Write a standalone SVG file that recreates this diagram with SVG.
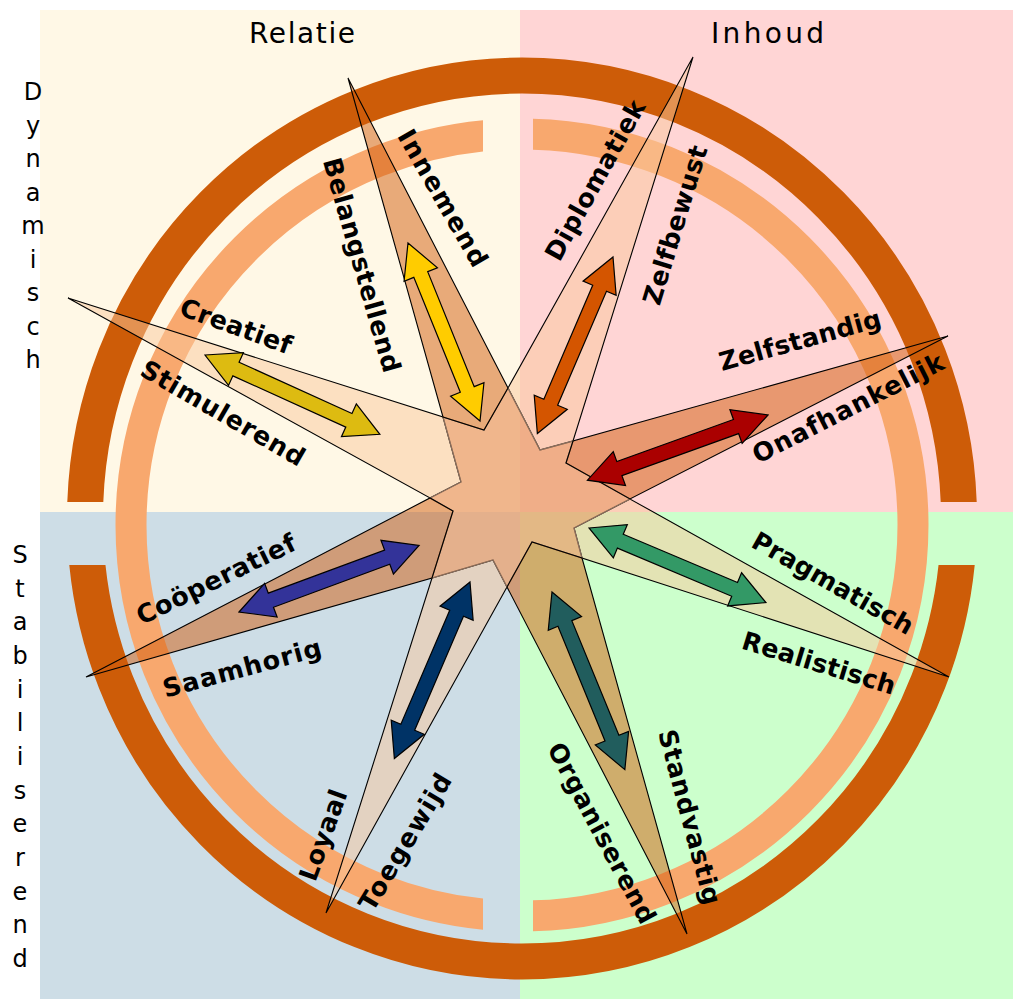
<svg xmlns="http://www.w3.org/2000/svg" xmlns:xlink="http://www.w3.org/1999/xlink" width="1019" height="999" viewBox="0 0 1019 999">
<style>
.dark{fill:rgb(209,92,11);fill-opacity:0.5;stroke:#000;stroke-width:1.1;stroke-linejoin:miter}
.light{fill:rgb(249,200,155);fill-opacity:0.5;stroke:#000;stroke-width:1.1}
.star{fill:rgb(235,160,110);fill-opacity:0.75;stroke:#8a6e5c;stroke-width:1.3}
.arr{stroke:#000;stroke-width:1.2;stroke-linejoin:miter}
.lbl{font-family:"DejaVu Sans",Verdana,sans-serif;font-weight:bold;font-size:25.5px;fill:#000}
.ttl{font-family:"DejaVu Sans",Verdana,sans-serif;font-size:28px;fill:#000}
.side{font-family:"DejaVu Sans",Verdana,sans-serif;font-size:24px;fill:#000;text-anchor:middle}
</style>
<defs>
<polygon id="arrow" points="0,0 34,-18 34,-7.5 158,-7.5 158,-18 192,0 158,18 158,7.5 34,7.5 34,18"/>
<clipPath id="outerClip"><rect x="0" y="0" width="1019" height="502"/><rect x="0" y="565" width="1019" height="434"/></clipPath>
<clipPath id="innerClip"><rect x="0" y="0" width="483" height="999"/><rect x="533" y="0" width="486" height="999"/></clipPath>
</defs>
<rect width="1019" height="999" fill="#fff"/>
<g id="quadrants">
<rect x="40" y="10" width="480" height="502" fill="#FFF8E6"/>
<rect x="520" y="10" width="493" height="502" fill="#FFD5D5"/>
<rect x="40" y="512" width="480" height="487" fill="#CDDDE6"/>
<rect x="520" y="512" width="493" height="487" fill="#CCFFCC"/>
</g>
<g id="rings">
<ellipse cx="522" cy="518.5" rx="437" ry="443" fill="none" stroke="#CD5C08" stroke-width="36" clip-path="url(#outerClip)"/>
<circle cx="522" cy="525" r="391" fill="none" stroke="#F8A86E" stroke-width="31" clip-path="url(#innerClip)"/>
</g>
<g id="connectors">
<g id="petal-diplomatiek"><polygon class="light" points="693,57 508,388 540,450 573,441"/></g>
<g id="petal-pragmatisch"><polygon class="light" points="949,677 630,499 574,528 582,558"/></g>
<g id="petal-loyaal"><polygon class="light" points="326,913 507,587 493,560 432,578"/></g>
<g id="petal-creatief"><polygon class="light" points="68,298 430,498 461,482 443,417"/></g>
<g id="star"><polygon class="star" points="443,417 484,430 508,388 540,450 573,441 566,463 630,499 574,528 582,558 532,542 507,587 493,560 432,578 453,511 430,498 461,482"/></g>
<g id="petal-innemend"><polygon class="dark" points="348,78 443,417 484,430 508,388"/></g>
<g id="petal-zelfstandig"><polygon class="dark" points="948,336 573,441 566,463 630,499"/></g>
<g id="petal-standvastig"><polygon class="dark" points="687,934 582,558 532,542 507,587"/></g>
<g id="petal-cooperatief"><polygon class="dark" points="86,677 432,578 453,511 430,498"/></g>
</g>
<g id="arrows">
<use xlink:href="#arrow" class="arr" fill="#FFCC00" transform="translate(408,243) rotate(67.97)"/>
<use xlink:href="#arrow" class="arr" fill="#D45500" transform="translate(613,257) rotate(113.2)"/>
<use xlink:href="#arrow" class="arr" fill="#AA0000" transform="translate(768,415) rotate(160.15)"/>
<use xlink:href="#arrow" class="arr" fill="#339966" transform="translate(589,528) rotate(22.85)"/>
<use xlink:href="#arrow" class="arr" fill="#215D5D" transform="translate(552,592) rotate(67.7)"/>
<use xlink:href="#arrow" class="arr" fill="#003366" transform="translate(470,582) rotate(113.2)"/>
<use xlink:href="#arrow" class="arr" fill="#333399" transform="translate(239,612) rotate(-20.3)"/>
<use xlink:href="#arrow" class="arr" fill="#DDBB11" transform="translate(205,355) rotate(24.4)"/>
</g>
<g id="labels" text-anchor="middle" dominant-baseline="central">
<text class="lbl" transform="translate(443,198) rotate(60)" textLength="154" lengthAdjust="spacing">Innemend</text>
<text class="lbl" transform="translate(362,265) rotate(74)" textLength="222" lengthAdjust="spacing">Belangstellend</text>
<text class="lbl" transform="translate(236,326) rotate(20)" textLength="117" lengthAdjust="spacing">Creatief</text>
<text class="lbl" transform="translate(223,413) rotate(30)" textLength="185" lengthAdjust="spacing">Stimulerend</text>
<text class="lbl" transform="translate(595,180) rotate(-61)" textLength="179" lengthAdjust="spacing">Diplomatiek</text>
<text class="lbl" transform="translate(675,225) rotate(-73)" textLength="165" lengthAdjust="spacing">Zelfbewust</text>
<text class="lbl" transform="translate(800,340) rotate(-15.6)" textLength="167" lengthAdjust="spacing">Zelfstandig</text>
<text class="lbl" transform="translate(848,408) rotate(-27)" textLength="211" lengthAdjust="spacing">Onafhankelijk</text>
<text class="lbl" transform="translate(216,579) rotate(-26)" textLength="174" lengthAdjust="spacing">Coöperatief</text>
<text class="lbl" transform="translate(242,668) rotate(-15)" textLength="163" lengthAdjust="spacing">Saamhorig</text>
<text class="lbl" transform="translate(323,835) rotate(-70)" textLength="95" lengthAdjust="spacing">Loyaal</text>
<text class="lbl" transform="translate(405,842) rotate(-59)" textLength="155" lengthAdjust="spacing">Toegewijd</text>
<text class="lbl" transform="translate(833,583) rotate(29.5)" textLength="181" lengthAdjust="spacing">Pragmatisch</text>
<text class="lbl" transform="translate(819,663) rotate(17)" textLength="159" lengthAdjust="spacing">Realistisch</text>
<text class="lbl" transform="translate(602,833) rotate(62)" textLength="201" lengthAdjust="spacing">Organiserend</text>
<text class="lbl" transform="translate(690,817) rotate(75)" textLength="180" lengthAdjust="spacing">Standvastig</text>
</g>
<g id="titles">
<text class="ttl" x="302" y="43" text-anchor="middle" textLength="106" lengthAdjust="spacing">Relatie</text>
<text class="ttl" x="767.5" y="43" text-anchor="middle" textLength="113" lengthAdjust="spacing">Inhoud</text>
<text class="side" x="33"><tspan x="33" y="100">D</tspan><tspan x="33" y="133.5">y</tspan><tspan x="33" y="167">n</tspan><tspan x="33" y="200.5">a</tspan><tspan x="33" y="234">m</tspan><tspan x="33" y="267.5">i</tspan><tspan x="33" y="301">s</tspan><tspan x="33" y="334.5">c</tspan><tspan x="33" y="368">h</tspan></text>
<text class="side" x="20"><tspan x="20" y="563">S</tspan><tspan x="20" y="596.7">t</tspan><tspan x="20" y="630.3">a</tspan><tspan x="20" y="664">b</tspan><tspan x="20" y="697.7">i</tspan><tspan x="20" y="731.3">l</tspan><tspan x="20" y="765">i</tspan><tspan x="20" y="798.7">s</tspan><tspan x="20" y="832.3">e</tspan><tspan x="20" y="866">r</tspan><tspan x="20" y="899.7">e</tspan><tspan x="20" y="933.3">n</tspan><tspan x="20" y="967">d</tspan></text>
</g>
</svg>
